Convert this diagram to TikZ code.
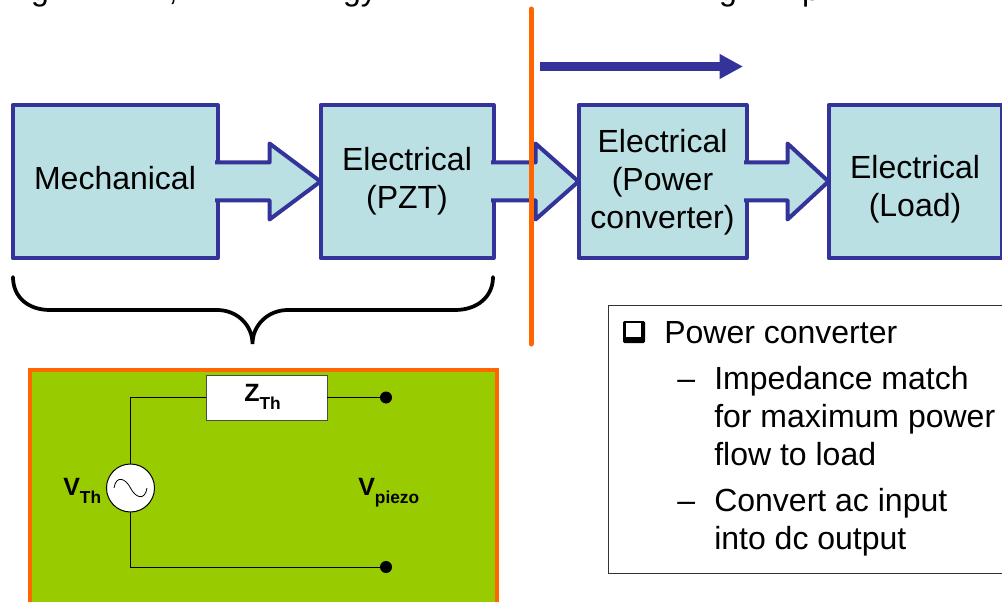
\documentclass[tikz,border=0pt]{standalone}
\usepackage{fontspec}
\setmainfont{Liberation Sans}
\usepackage{xcolor}
\usetikzlibrary{arrows.meta,positioning,calc}
\definecolor{flowblue}{HTML}{333399}
\definecolor{flowfill}{HTML}{BBE0E3}
\definecolor{flowcut}{HTML}{FF6600}
\definecolor{panelgreen}{HTML}{99CC00}

% block arrow: from box, to box, length of the head
\newcommand{\blockarrow}[3]{
  \filldraw[blockline]
    ($(#1.east)+(-2.5,-19)$) -- ($(#2.west)+(-#3,-19)$) -- ($(#2.west)+(-#3,-38)$)
    -- (#2.west)
    -- ($(#2.west)+(-#3,38)$) -- ($(#2.west)+(-#3,19)$) -- ($(#1.east)+(-2.5,19)$);
}
\newcommand{\lowsub}[1]{\lower 6pt\hbox{\fontsize{13}{14}\selectfont #1}}

\begin{document}
\begin{tikzpicture}[
        x=0.75pt,
        y=-0.75pt,
        flowbox/.style={
          draw=flowblue,
          fill=flowfill,
          line width=3pt,
          line join=round,
          outer sep=0pt,
          inner sep=0pt,
          minimum height=114.75pt
        },
        flowtext/.style={
          inner sep=0pt,
          align=center,
          font=\fontsize{24}{28.5}\selectfont
        },
        blockline/.style={
          draw=flowblue,
          fill=flowfill,
          line width=3pt,
          line join=round
        },
        cutline/.style={
          draw=flowcut,
          line width=3.75pt,
          line cap=round
        },
        wire/.style={
          draw=black,
          line width=0.75pt
        },
        terminal/.style={
          circle,
          fill=black,
          inner sep=0pt,
          minimum size=9pt
        },
        circuitlabel/.style={
          anchor=base west,
          inner sep=0pt,
          font=\fontsize{18.75}{20}\selectfont\bfseries
        },
        notetext/.style={
          anchor=base west,
          inner sep=0pt,
          font=\fontsize{24}{28}\selectfont
        },
        cuttext/.style={
          anchor=base,
          inner sep=0pt,
          font=\fontsize{24}{28}\selectfont
        }
      ]

      \useasboundingbox (0,0) rectangle (1002,602);

      % what is left of the line of text cut off at the top
      \node[cuttext] (cuta) at (40,0.5) {g};
      \node[cuttext] (cutb) at (173,0.5) {,};
      \node[cuttext] (cutc) at (360,0.5) {gy};
      \node[cuttext] (cutd) at (728,0.5) {g};
      \node[cuttext] (cute) at (811,0.5) {p};

      \node[flowbox, minimum width=153.75pt] (mech) at (115,181.5) {};
      \node[flowbox, minimum width=129.75pt, right=77.25pt of mech] (pzt) {};
      \node[flowbox, minimum width=126pt, right=63.75pt of pzt] (conv) {};
      \node[flowbox, minimum width=129.75pt, right=61.5pt of conv] (load) {};

      \node[flowtext] (mechtext) at ($(mech.center)+(0,-3)$) {Mechanical};
      \node[flowtext] (pzttext) at ($(pzt.center)+(0,0)$) {Electrical\\(PZT)};
      \node[flowtext] (convtext) at ($(conv.center)+(0,1)$) {Electrical\\(Power\\converter)};
      \node[flowtext] (loadtext) at ($(load.center)+(0,8)$) {Electrical\\(Load)};

      \blockarrow{mech}{pzt}{51}
      \blockarrow{pzt}{conv}{43}
      \blockarrow{conv}{load}{41}

      \coordinate (cuttop) at (531,9);
      \coordinate (cutbottom) at (531,344);
      \draw[cutline] (cuttop) -- (cutbottom);

      \coordinate (flowstart) at (540,66.5);
      \coordinate (flowend) at (743,66.5);
      \draw[-{Triangle[length=17.5pt,width=17.5pt]}, flowblue, line width=6.4pt] (flowstart) -- (flowend);

      \coordinate (braceleft) at (13,277);
      \coordinate (bracetip) at (252.5,344);
      \coordinate (braceright) at (493,277);
      \draw[line width=2.8pt, line cap=round] (braceleft)
        .. controls (13,297) and (28,310) .. (50,310) -- (217,310)
        .. controls (237,310) and (252.5,325) .. (bracetip)
        .. controls (252.5,325) and (268,310) .. (288,310) -- (455,310)
        .. controls (477,310) and (493,297) .. (braceright);

      \node[draw=flowcut, fill=panelgreen, line width=3pt, anchor=north west, minimum width=350.25pt, minimum height=187.5pt, inner sep=0pt, outer sep=0pt] (panel) at (30,370) {};

      \node[draw=black!70, fill=white, line width=0.75pt, minimum width=90.75pt, minimum height=33.75pt, inner sep=0pt, outer sep=0pt] (zth) at (266.5,397.5) {};
      \node[circle, draw=black, fill=white, line width=0.75pt, minimum size=36pt, inner sep=0pt, outer sep=0pt] (source) at (130.5,488) {};
      \node[terminal] (topdot) at (386,397.5) {};
      \node[terminal] (botdot) at (386,567) {};

      \draw[wire] (source.north) |- (zth.west);
      \draw[wire] (zth.east) -- (topdot);
      \draw[wire] (source.south) |- (botdot);
      \draw[line width=0.6pt] ($(source.center)+(-16.5,0)$)
        .. controls +(2,-13) and +(-5,-10) .. (source.center)
        .. controls +(5,10) and +(-2,13) .. ($(source.center)+(16.5,0)$);

      \node[circuitlabel] (zlabel) at (244,401) {Z\lowsub{Th}};
      \node[circuitlabel] (vthlabel) at (63,495) {V\lowsub{Th}};
      \node[circuitlabel] (vpiezo) at (358,495) {V\lowsub{piezo}};

      \node[draw=black!80, line width=0.75pt, anchor=north west, minimum width=302pt, minimum height=201pt, inner sep=0pt, outer sep=0pt] (note) at (608,305) {};
      \node[fill=black, rounded corners=1pt, minimum size=16.5pt, inner sep=0pt, outer sep=0pt] (bullet) at (634,332) {};
      \fill[white] ($(bullet.south west)+(3.2,-6)$) rectangle ($(bullet.north east)+(-4.3,1.7)$);
      \node[notetext] (notetitle) at (664,343) {Power converter};
      \node[notetext] (dasha) at (677,389) {–};
      \node[notetext] (matcha) at (714,389) {Impedance match};
      \node[notetext] (matchb) at (714,427) {for maximum power};
      \node[notetext] (matchc) at (714,465) {flow to load};
      \node[notetext] (dashb) at (677,511) {–};
      \node[notetext] (converta) at (714,511) {Convert ac input};
      \node[notetext] (convertb) at (714,549) {into dc output};

      \end{tikzpicture}
\end{document}
